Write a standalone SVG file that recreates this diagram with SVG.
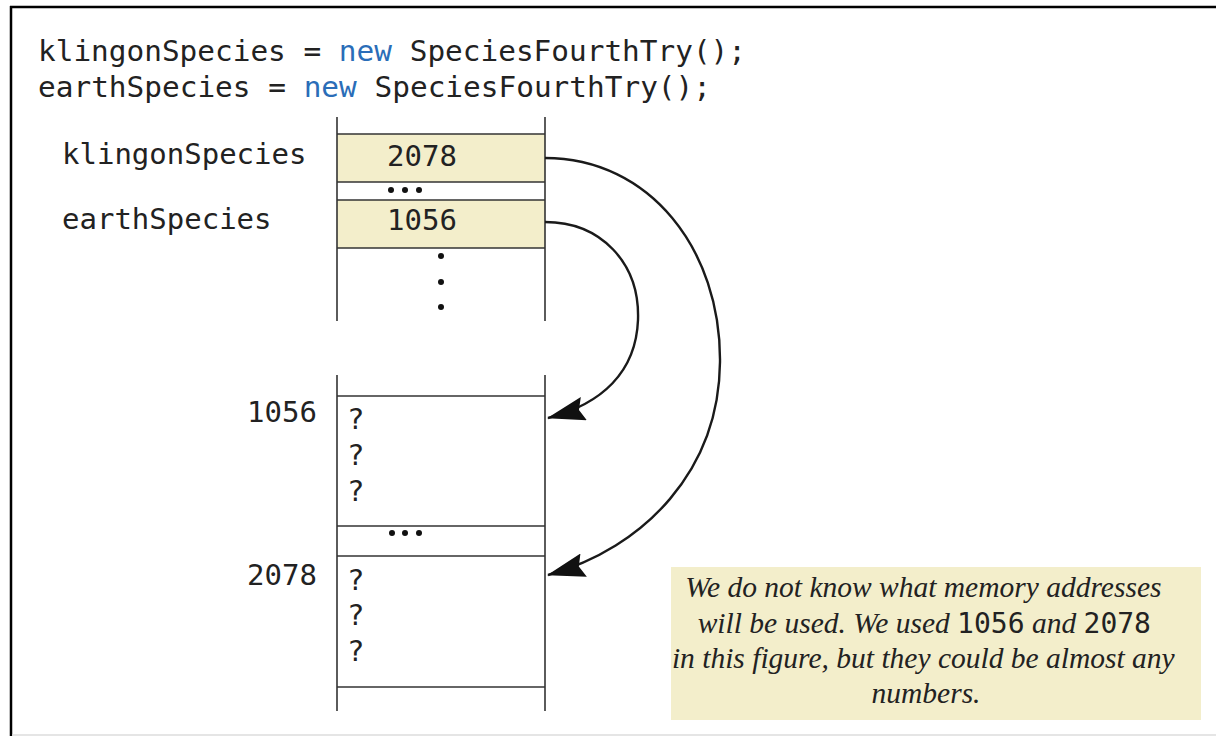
<svg xmlns="http://www.w3.org/2000/svg" width="1216" height="736" viewBox="0 0 1216 736">
  <style>
    .code { font-family: "DejaVu Sans Mono", "Liberation Mono", monospace; font-size: 29px; fill: #222; }
    .kw { fill: #2a6db8; }
    .var { fill: #f3eecb; }
    .rule { stroke: #333; stroke-width: 1.6; fill: none; }
    .note { font-family: "Liberation Serif", serif; font-style: italic; font-size: 29.5px; fill: #222; }
    .notenum { font-family: "DejaVu Sans Mono", monospace; font-style: normal; font-size: 28px; }
    .link { fill: none; stroke: #1a1a1a; stroke-width: 2.4; marker-end: url(#head); }
  </style>
  <defs>
    <marker id="head" markerUnits="userSpaceOnUse" viewBox="0 0 38 24" refX="37" refY="12" markerWidth="38" markerHeight="24" orient="auto">
      <path d="M0,0 L38,12 L0,24 L5,12 z" fill="#111"/>
    </marker>
  </defs>

  <rect width="1216" height="736" fill="#fff"/>

  <!-- frame -->
  <g id="frame">
    <line x1="10" y1="7" x2="1216" y2="7" stroke="#000" stroke-width="2.5"/>
    <line x1="11" y1="6" x2="11" y2="736" stroke="#000" stroke-width="2.5"/>
    <line x1="12" y1="735" x2="1216" y2="735" stroke="#ddd" stroke-width="1.5"/>
  </g>

  <!-- statements -->
  <g id="code">
    <text class="code" x="38" y="61" textLength="708" lengthAdjust="spacingAndGlyphs">klingonSpecies = <tspan class="kw">new</tspan> SpeciesFourthTry();</text>
    <text class="code" x="38" y="97" textLength="673" lengthAdjust="spacingAndGlyphs">earthSpecies = <tspan class="kw">new</tspan> SpeciesFourthTry();</text>
  </g>

  <!-- variable area -->
  <g id="variables">
    <rect class="var" x="337" y="134" width="208" height="48"/>
    <rect class="var" x="337" y="200" width="208" height="48"/>
    <line class="rule" x1="337" y1="117" x2="337" y2="321"/>
    <line class="rule" x1="545" y1="117" x2="545" y2="321"/>
    <line class="rule" x1="337" y1="134" x2="545" y2="134"/>
    <line class="rule" x1="337" y1="182" x2="545" y2="182"/>
    <line class="rule" x1="337" y1="200" x2="545" y2="200"/>
    <line class="rule" x1="337" y1="248" x2="545" y2="248"/>
    <g fill="#111">
      <circle cx="391" cy="190" r="3"/><circle cx="405" cy="190" r="3"/><circle cx="419" cy="190" r="3"/>
      <circle cx="441" cy="256" r="3"/><circle cx="441" cy="282" r="3"/><circle cx="441" cy="307" r="3"/>
    </g>
  </g>
  <g id="klingonSpecies">
    <text class="code" x="62" y="164">klingonSpecies</text>
    <text class="code" x="387" y="166">2078</text>
  </g>
  <g id="earthSpecies">
    <text class="code" x="62" y="229">earthSpecies</text>
    <text class="code" x="387" y="230">1056</text>
  </g>

  <!-- object area -->
  <g id="heap">
    <line class="rule" x1="337" y1="375" x2="337" y2="711"/>
    <line class="rule" x1="545" y1="375" x2="545" y2="711"/>
    <line class="rule" x1="337" y1="396" x2="545" y2="396"/>
    <line class="rule" x1="337" y1="526" x2="545" y2="526"/>
    <line class="rule" x1="337" y1="556" x2="545" y2="556"/>
    <line class="rule" x1="337" y1="687" x2="545" y2="687"/>
    <g fill="#111">
      <circle cx="392" cy="533" r="3"/><circle cx="405" cy="533" r="3"/><circle cx="419" cy="533" r="3"/>
    </g>
  </g>
  <g id="object1056">
    <text class="code" x="247" y="422">1056</text>
    <text class="code" x="347" y="429">?</text>
    <text class="code" x="347" y="465">?</text>
    <text class="code" x="347" y="501">?</text>
  </g>
  <g id="object2078">
    <text class="code" x="247" y="585">2078</text>
    <text class="code" x="347" y="590">?</text>
    <text class="code" x="347" y="625">?</text>
    <text class="code" x="347" y="661">?</text>
  </g>

  <!-- references -->
  <g id="connectors">
    <path class="link" d="M545,222 C600,222 640,262 638,320 C636,372 602,404 548,418"/>
    <path class="link" d="M545,158 C650,158 721,250 720,362 C719,470 645,548 548,575"/>
  </g>

  <!-- note -->
  <g id="note">
    <rect x="671" y="567" width="530" height="153" fill="#f3eecb"/>
    <text class="note" text-anchor="middle">
      <tspan x="927" y="597">We do not know what memory addresses</tspan>
      <tspan x="928" y="633">will be used. We used <tspan class="notenum">1056</tspan> and <tspan class="notenum">2078</tspan></tspan>
      <tspan x="927" y="668">in this figure, but they could be almost any</tspan>
      <tspan x="926" y="703">numbers.</tspan>
    </text>
  </g>
</svg>
